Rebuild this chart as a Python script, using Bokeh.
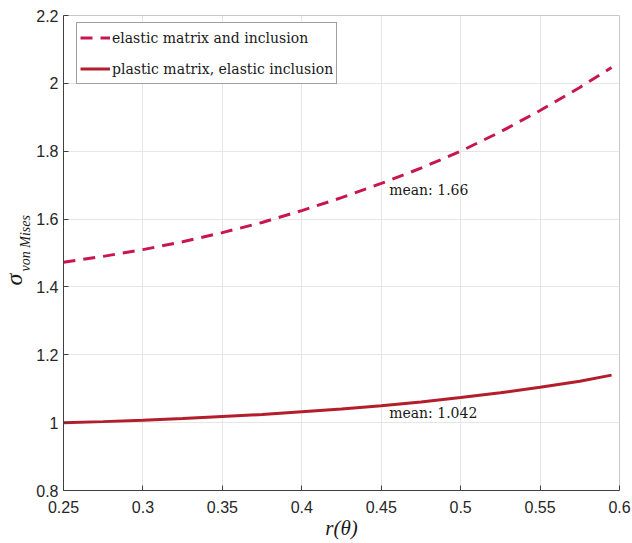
from bokeh.plotting import figure
from bokeh.layouts import row
from bokeh.models import Label, Legend, LegendItem, FixedTicker, NumeralTickFormatter, Range1d
from bokeh.embed import file_html
from bokeh.resources import INLINE

# radius samples and von Mises stress for both material cases
r_vals = [0.25, 0.275, 0.30, 0.325, 0.35, 0.375, 0.40, 0.425, 0.45, 0.475,
          0.50, 0.525, 0.55, 0.575, 0.595]
elastic = [1.473, 1.490, 1.510, 1.533, 1.560, 1.590, 1.625, 1.663, 1.705, 1.750,
           1.800, 1.857, 1.920, 1.988, 2.047]
plastic = [1.000, 1.003, 1.007, 1.012, 1.018, 1.024, 1.032, 1.040, 1.050, 1.061,
           1.074, 1.088, 1.104, 1.122, 1.140]

series_names = ["elastic matrix and inclusion", "plastic matrix, elastic inclusion"]
mean_texts = ["mean: 1.66", "mean: 1.042"]

x_ticks = [0.25, 0.3, 0.35, 0.4, 0.45, 0.5, 0.55, 0.6]
y_ticks = [0.8, 1.0, 1.2, 1.4, 1.6, 1.8, 2.0, 2.2]

DASHED = "#C8174F"
SOLID = "#B21E2C"
SERIF = "DejaVu Serif"
MATH = "Liberation Serif"
SANS = "Liberation Sans"
INK = "#1a1a1a"

STRIP_W = 33
TOTAL_W = 632
TOTAL_H = 543
FRAME_TOP = 15
FRAME_BOTTOM = 490

p = figure(width=TOTAL_W - STRIP_W, height=TOTAL_H, x_range=(0.25, 0.6), y_range=(0.8, 2.2),
           output_backend="svg", toolbar_location=None,
           min_border_left=62 - STRIP_W, min_border_right=13, min_border_top=FRAME_TOP,
           min_border_bottom=TOTAL_H - FRAME_BOTTOM)
p.background_fill_color = "white"
p.border_fill_color = "white"
p.outline_line_color = "#c8c8c8"

for ax, ticks in ((p.xaxis, x_ticks), (p.yaxis, y_ticks)):
    ax.ticker = FixedTicker(ticks=ticks)
    ax.axis_line_color = "#404040"
    ax.major_tick_line_color = "#404040"
    ax.major_tick_in = 5
    ax.major_tick_out = 0
    ax.minor_tick_line_color = None
    ax.major_label_text_font = SANS
    ax.major_label_text_font_size = "16px"
    ax.major_label_text_color = "#262626"
p.xaxis.major_label_standoff = 10
p.yaxis.major_label_standoff = 5
p.yaxis.formatter = NumeralTickFormatter(format="0.[0]")
p.xaxis.formatter = NumeralTickFormatter(format="0.[00]")

p.xaxis.axis_label = "r(θ)"
p.xaxis.axis_label_text_font = MATH
p.xaxis.axis_label_text_font_style = "italic"
p.xaxis.axis_label_text_font_size = "21px"
p.xaxis.axis_label_text_color = INK
p.xaxis.axis_label_standoff = 0

p.xgrid.grid_line_color = "#e6e6e6"
p.ygrid.grid_line_color = "#e6e6e6"
p.xgrid.ticker = FixedTicker(ticks=x_ticks)
p.ygrid.ticker = FixedTicker(ticks=y_ticks)

l1 = p.line(r_vals, elastic, line_color=DASHED, line_width=3, line_dash="12 8")
l2 = p.line(r_vals, plastic, line_color=SOLID, line_width=3)

legend = Legend(items=[LegendItem(label=series_names[0], renderers=[l1]),
                       LegendItem(label=series_names[1], renderers=[l2])],
                location=(13, 406))
legend.label_text_font = SERIF
legend.label_text_font_size = "14px"
legend.label_text_color = INK
legend.glyph_width = 30
legend.label_height = 23
legend.glyph_height = 23
legend.label_standoff = 2
legend.spacing = 8
legend.padding = 3
legend.border_line_color = "#404040"
legend.border_line_width = 1
legend.background_fill_alpha = 1
p.add_layout(legend)

# mean annotations next to each curve
for txt, yv in zip(mean_texts, [1.685, 1.027]):
    p.add_layout(Label(x=0.455, y=yv, text=txt, text_font=SERIF,
                       text_font_size="14px", text_color=INK,
                       text_baseline="middle"))

# narrow strip on the left carrying the rotated y-axis title (sigma with subscript).
# The row aligns its frame with the main frame, so its y range runs in page pixels.
strip = figure(width=STRIP_W, height=TOTAL_H, x_range=Range1d(0, STRIP_W),
               y_range=Range1d(FRAME_BOTTOM, FRAME_TOP), x_axis_type=None, y_axis_type=None,
               output_backend="svg", toolbar_location=None, title=None,
               min_border=0, min_border_left=0, min_border_right=0,
               min_border_top=FRAME_TOP, min_border_bottom=TOTAL_H - FRAME_BOTTOM)
strip.outline_line_color = None
strip.grid.visible = False
strip.border_fill_color = "white"
strip.background_fill_color = "white"
strip.add_layout(Label(x=13, y=285, text="σ", text_font=MATH,
                       text_font_style="italic", text_font_size="24px",
                       text_color=INK, angle=1.5708, angle_units="rad",
                       text_align="left", text_baseline="middle"))
strip.add_layout(Label(x=25, y=271, text="von Mises", text_font=MATH,
                       text_font_style="italic", text_font_size="14px",
                       text_color=INK, angle=1.5708, angle_units="rad",
                       text_align="left", text_baseline="middle"))

layout = row(strip, p, spacing=0)
open("out.html", "w").write(file_html(layout, INLINE))
